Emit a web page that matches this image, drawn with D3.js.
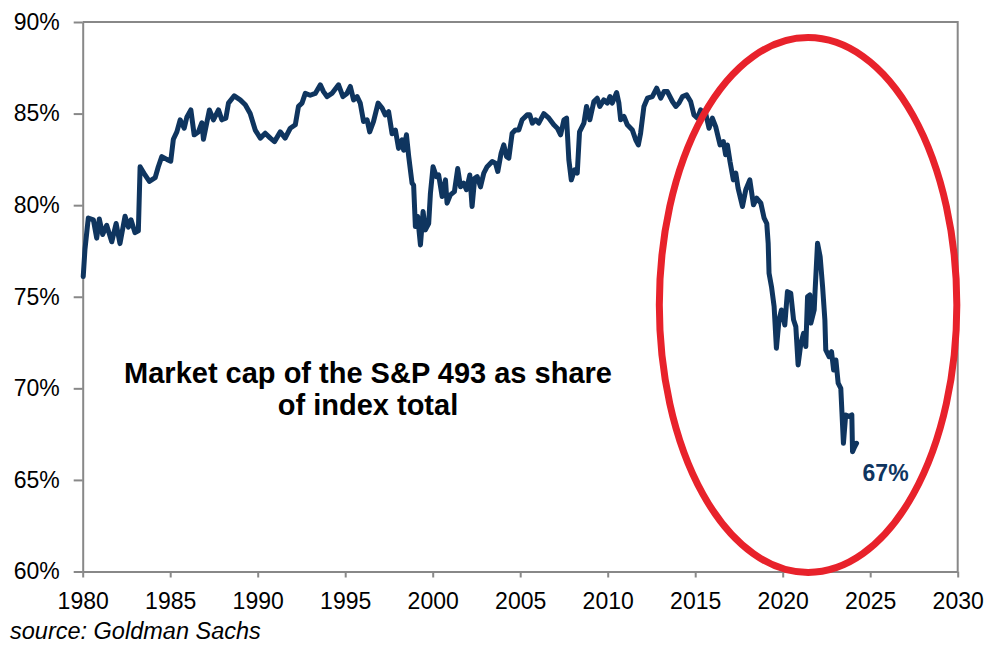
<!DOCTYPE html>
<html>
<head>
<meta charset="utf-8">
<script src="https://cdn.jsdelivr.net/npm/d3@7"></script>
<style>
	body{margin:0;background:#fff;}
	text{font-family:"Liberation Sans",Arial,sans-serif;}
</style>
</head>
<body>
<script>
	var w=999;
	var h=645;

	// year (decimal) and share of index total (%)
	var years=[1980.03,1980.13,1980.32,1980.61,1980.80,1980.95,1981.14,1981.37,1981.66,1981.91,
		1982.13,1982.42,1982.61,1982.76,1982.99,1983.18,1983.28,1983.56,1983.81,1984.14,
		1984.32,1984.52,1984.81,1985.03,1985.18,1985.38,1985.57,1985.80,1985.95,1986.18,
		1986.37,1986.61,1986.81,1986.90,1987.09,1987.24,1987.47,1987.76,1987.95,1988.18,
		1988.33,1988.66,1989.00,1989.29,1989.57,1989.86,1990.15,1990.43,1990.72,1990.96,
		1991.29,1991.57,1991.86,1992.15,1992.33,1992.53,1992.72,1993.00,1993.29,1993.58,
		1993.76,1993.96,1994.24,1994.62,1994.87,1995.10,1995.29,1995.48,1995.68,1995.86,
		1996.05,1996.25,1996.40,1996.62,1996.88,1997.11,1997.29,1997.48,1997.68,1997.87,
		1998.05,1998.25,1998.34,1998.50,1998.63,1998.82,1998.91,1999.01,1999.14,1999.30,
		1999.45,1999.58,1999.77,1999.87,2000.02,2000.21,2000.34,2000.54,2000.73,2000.82,
		2001.01,2001.24,2001.43,2001.59,2001.77,2001.93,2002.12,2002.25,2002.40,2002.54,
		2002.73,2002.92,2003.11,2003.40,2003.59,2003.72,2003.91,2004.06,2004.22,2004.35,
		2004.54,2004.73,2004.92,2005.11,2005.40,2005.55,2005.69,2005.88,2006.06,2006.35,
		2006.64,2006.92,2007.12,2007.31,2007.50,2007.65,2007.78,2007.92,2008.11,2008.26,
		2008.39,2008.64,2008.79,2008.98,2009.21,2009.40,2009.55,2009.78,2009.98,2010.13,
		2010.26,2010.51,2010.64,2010.74,2010.93,2011.12,2011.41,2011.60,2011.75,2011.88,
		2012.07,2012.27,2012.55,2012.80,2013.03,2013.22,2013.41,2013.70,2013.89,2014.07,
		2014.27,2014.51,2014.74,2014.93,2015.13,2015.31,2015.60,2015.79,2015.98,2016.17,
		2016.42,2016.61,2016.74,2016.84,2016.99,2017.18,2017.32,2017.45,2017.70,2017.89,
		2018.12,2018.33,2018.52,2018.75,2018.94,2019.09,2019.17,2019.22,2019.36,2019.51,
		2019.64,2019.79,2019.93,2020.12,2020.27,2020.46,2020.62,2020.75,2020.88,2021.04,
		2021.19,2021.32,2021.42,2021.55,2021.61,2021.80,2021.85,2021.99,2022.14,2022.28,
		2022.41,2022.46,2022.65,2022.79,2022.91,2023.04,2023.17,2023.32,2023.47,2023.60,
		2023.80,2023.95,2023.99,2024.12,2024.22];

	var share=[76.1,77.6,79.3,79.2,78.2,79.25,78.4,78.9,78.0,79.0,
		77.9,79.4,78.8,79.2,78.5,78.6,82.1,81.65,81.3,81.5,
		82.1,82.65,82.5,82.4,83.6,84.0,84.66,84.2,84.8,85.2,
		83.84,84.0,84.5,83.6,84.5,85.2,84.66,85.2,84.66,84.75,
		85.57,85.97,85.75,85.48,85.0,84.1,83.66,83.93,83.66,83.47,
		84.0,83.66,84.2,84.39,85.39,85.57,86.1,86.0,86.1,86.57,
		86.2,85.93,86.1,86.57,85.93,86.1,86.48,85.75,85.93,85.57,
		84.57,84.66,84.0,84.57,85.57,85.3,84.93,85.1,83.9,84.1,
		83.1,83.57,83.0,83.84,82.65,81.2,81.1,78.83,79.38,77.83,
		79.65,78.65,79.0,80.65,82.1,81.56,81.65,80.47,81.38,80.11,
		80.56,80.74,82.0,81.0,81.2,80.84,81.65,79.93,81.47,81.56,
		81.0,81.75,82.1,82.38,82.29,81.84,82.84,83.29,82.65,82.57,
		83.93,84.11,84.11,84.66,84.93,84.93,84.48,84.66,84.48,85.0,
		84.75,84.39,84.2,83.84,84.66,84.75,82.47,81.38,81.93,81.75,
		84.0,84.48,85.39,84.66,85.66,85.84,85.39,85.75,85.57,85.93,
		85.57,86.15,85.57,84.66,84.84,84.39,84.1,83.57,83.29,83.93,
		85.39,85.84,85.93,86.39,85.84,86.2,86.2,85.66,85.39,85.57,
		85.93,86.02,85.66,84.93,84.75,85.2,85.0,84.2,84.75,84.29,
		83.29,83.47,82.75,83.29,82.38,81.38,81.75,80.93,79.93,80.84,
		81.38,80.02,80.38,80.11,79.29,79.0,77.92,76.28,75.55,74.46,
		72.19,73.74,74.28,73.46,75.28,75.19,73.74,73.37,71.28,72.46,
		73.0,72.28,75.0,75.1,73.56,74.28,75.3,77.92,77.19,75.55,
		73.74,72.1,71.73,72.0,71.0,71.55,70.28,70.0,67.0,68.55,
		68.46,68.55,66.54,66.82,67.0];

	var xTicks=[1980,1985,1990,1995,2000,2005,2010,2015,2020,2025,2030];
	var yTicks=[60,65,70,75,80,85,90];

	var titleLines=["Market cap of the S&P 493 as share","of index total"];
	var source="source: Goldman Sachs";

	// red ring: centre (year, %) and radii in the same units
	var ring={cx:2021.45,cy:74.55,rx:8.5,ry:14.6};

	var navy="#0f355f";
	var red="#e8222b";
	var grey="#888888";

	var svg=d3.select("body").append("svg")
	.attr("width",w).attr("height",h);

	var x=d3.scaleLinear().domain([1980,2030]).range([82.7,957.7]);
	var y=d3.scaleLinear().domain([60,90]).range([571.5,22]);

	var points=years.map(function(d,i){
		return [d,share[i]];
	});

	//坐标轴
	var xAxis=d3.axisBottom(x).tickValues(xTicks)
	.tickSize(6).tickSizeOuter(0).tickPadding(15)
	.tickFormat(d3.format("d"));
	var yAxis=d3.axisLeft(y).tickValues(yTicks)
	.tickSize(9).tickSizeOuter(0).tickPadding(14)
	.tickFormat(function(d){ return d+"%";});

	var gx=svg.append("g").attr("transform","translate(0,"+y(60)+")").call(xAxis);
	var gy=svg.append("g").attr("transform","translate("+x(1980)+",0)").call(yAxis);

	[gx,gy].forEach(function(g){
		g.select(".domain").attr("stroke",grey).attr("stroke-width",2);
		g.selectAll(".tick line").attr("stroke",grey).attr("stroke-width",2);
		g.selectAll(".tick text").attr("fill","#000").attr("font-size",23)
		.attr("font-family","'Liberation Sans',Arial,sans-serif");
	});

	// top and right edge of the plot box
	svg.append("path")
	.attr("d","M"+x(1980)+","+y(90)+"H"+x(2030)+"V"+y(60))
	.attr("fill","none").attr("stroke",grey).attr("stroke-width",2);

	var line=d3.line()
	.x(function(d){ return x(d[0]);})
	.y(function(d){ return y(d[1]);});

	svg.append("path")
	.datum(points)
	.attr("d",line)
	.attr("fill","none")
	.attr("stroke",navy)
	.attr("stroke-width",5)
	.attr("stroke-linejoin","round")
	.attr("stroke-linecap","round");

	svg.append("ellipse")
	.attr("cx",x(ring.cx))
	.attr("cy",y(ring.cy))
	.attr("rx",x(ring.cx+ring.rx)-x(ring.cx))
	.attr("ry",y(ring.cy-ring.ry)-y(ring.cy))
	.attr("fill","none")
	.attr("stroke",red)
	.attr("stroke-width",7);

	var last=points[points.length-1];
	svg.append("text")
	.attr("x",x(last[0])+6)
	.attr("y",y(last[1])+38)
	.attr("fill",navy)
	.attr("font-size",23)
	.attr("font-weight","bold")
	.text(d3.format(".0f")(last[1])+"%");

	svg.selectAll("text.title")
	.data(titleLines)
	.enter()
	.append("text")
	.attr("class","title")
	.attr("x",368)
	.attr("y",function(d,i){ return 383+i*32;})
	.attr("text-anchor","middle")
	.attr("font-size",29)
	.attr("font-weight","bold")
	.attr("fill","#000")
	.text(function(d){ return d;});

	svg.append("text")
	.attr("x",10)
	.attr("y",639)
	.attr("font-size",23.5)
	.attr("font-style","italic")
	.attr("fill","#000")
	.text(source);
</script>
</body>
</html>
